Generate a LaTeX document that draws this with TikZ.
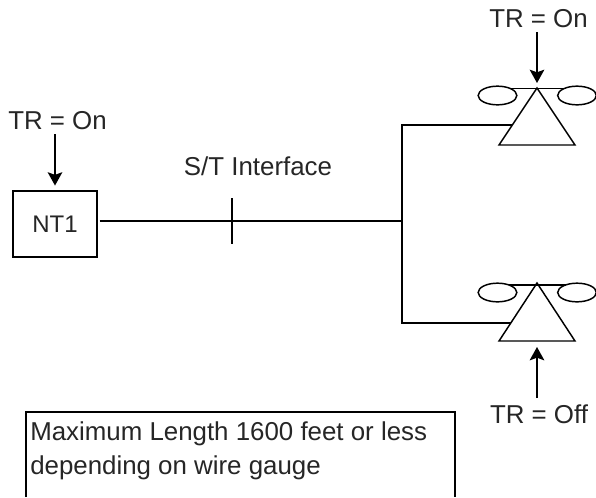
\documentclass[tikz,border=0pt]{standalone}
\usepackage{fontspec}
\setmainfont{Liberation Sans}
\usetikzlibrary{arrows.meta,shapes.geometric}
\tikzset{
  wire/.style={line width=1.2pt,black},
  thin wire/.style={line width=1.1pt,black},
  arr/.style={wire,-{Stealth[length=10pt,width=11pt,inset=2pt]}},
  lbl/.style={inner sep=0pt,font=\fontsize{19.4pt}{24pt}\selectfont,text=black!85},
  ring/.style={draw,ellipse,line width=1.1pt,minimum width=29pt,minimum height=14pt,inner sep=0pt},
  boxn/.style={draw,line width=1.2pt,minimum width=63pt,minimum height=49.5pt,inner sep=0pt,font=\fontsize{18pt}{24pt}\selectfont,text=black!85}
}
\begin{document}
\begin{tikzpicture}[x=0.75pt,y=-0.75pt]
\useasboundingbox (0,0) rectangle (596,497);
\fill[white] (0,0) rectangle (596,497);
% labels
\node[lbl] (tr1) at (57.5,121) {TR = On};
\node[lbl] (tr2) at (538.5,19) {TR = On};
\node[lbl] (tr3) at (539,414) {TR = Off};
\node[lbl] (st) at (258,166) {S/T Interface};
% NT1
\node[boxn] (nt) at (55,224) {NT1};
% junction and tick
\coordinate (j) at (402,221);
\coordinate (tka) at (232,198);
\coordinate (tkb) at (232,244);
\coordinate (ls) at (99.5,221);
\draw[wire] (ls) -- (j);
\draw[thin wire] (tka) -- (tkb);
% upper station
\coordinate (ua) at (537,88);
\coordinate (ub) at (499,145);
\coordinate (uc) at (575,145);
\draw[thin wire,line join=miter] (ua) -- (ub) -- (uc) -- cycle;
\node[ring] (ul) at (497.5,95.5) {};
\node[ring] (ur) at (577,95.5) {};
\coordinate (ulc) at (509,88.5);
\coordinate (urc) at (566,88.5);
\draw[thin wire] (ulc) -- (urc);
\coordinate (ut) at (512,125);
\coordinate (jt) at (402,125);
% lower station
\coordinate (la) at (537,283);
\coordinate (lb) at (499,341);
\coordinate (lc) at (575,341);
\draw[thin wire,line join=miter] (la) -- (lb) -- (lc) -- cycle;
\node[ring] (ll) at (497.5,292.5) {};
\node[ring] (lr) at (577,292.5) {};
\coordinate (llc) at (509,285);
\coordinate (lrc) at (566,285);
\draw[thin wire] (llc) -- (lrc);
\coordinate (lt) at (511,323);
\coordinate (jb) at (402,323);
% bus
\draw[wire,line join=miter] (ut) -- (jt) -- (jb) -- (lt);
% arrows
\coordinate (a1) at (55,134);
\draw[arr] (a1) -- ([yshift=3.5pt]nt.north);
\coordinate (a2) at (537,32);
\coordinate (a2e) at (537,83);
\draw[arr] (a2) -- (a2e);
\coordinate (a3) at (537,398);
\coordinate (a3e) at (537,347);
\draw[arr] (a3) -- (a3e);
% note box, cut by the lower edge
\draw[wire,line join=miter] (26,497) -- (26,412) -- (455,412) -- (455,497);
\node[lbl,anchor=base west] (n1) at (30,440) {Maximum Length 1600 feet or less};
\node[lbl,anchor=base west] (n2) at (30,474) {depending on wire gauge};
\end{tikzpicture}
\end{document}
